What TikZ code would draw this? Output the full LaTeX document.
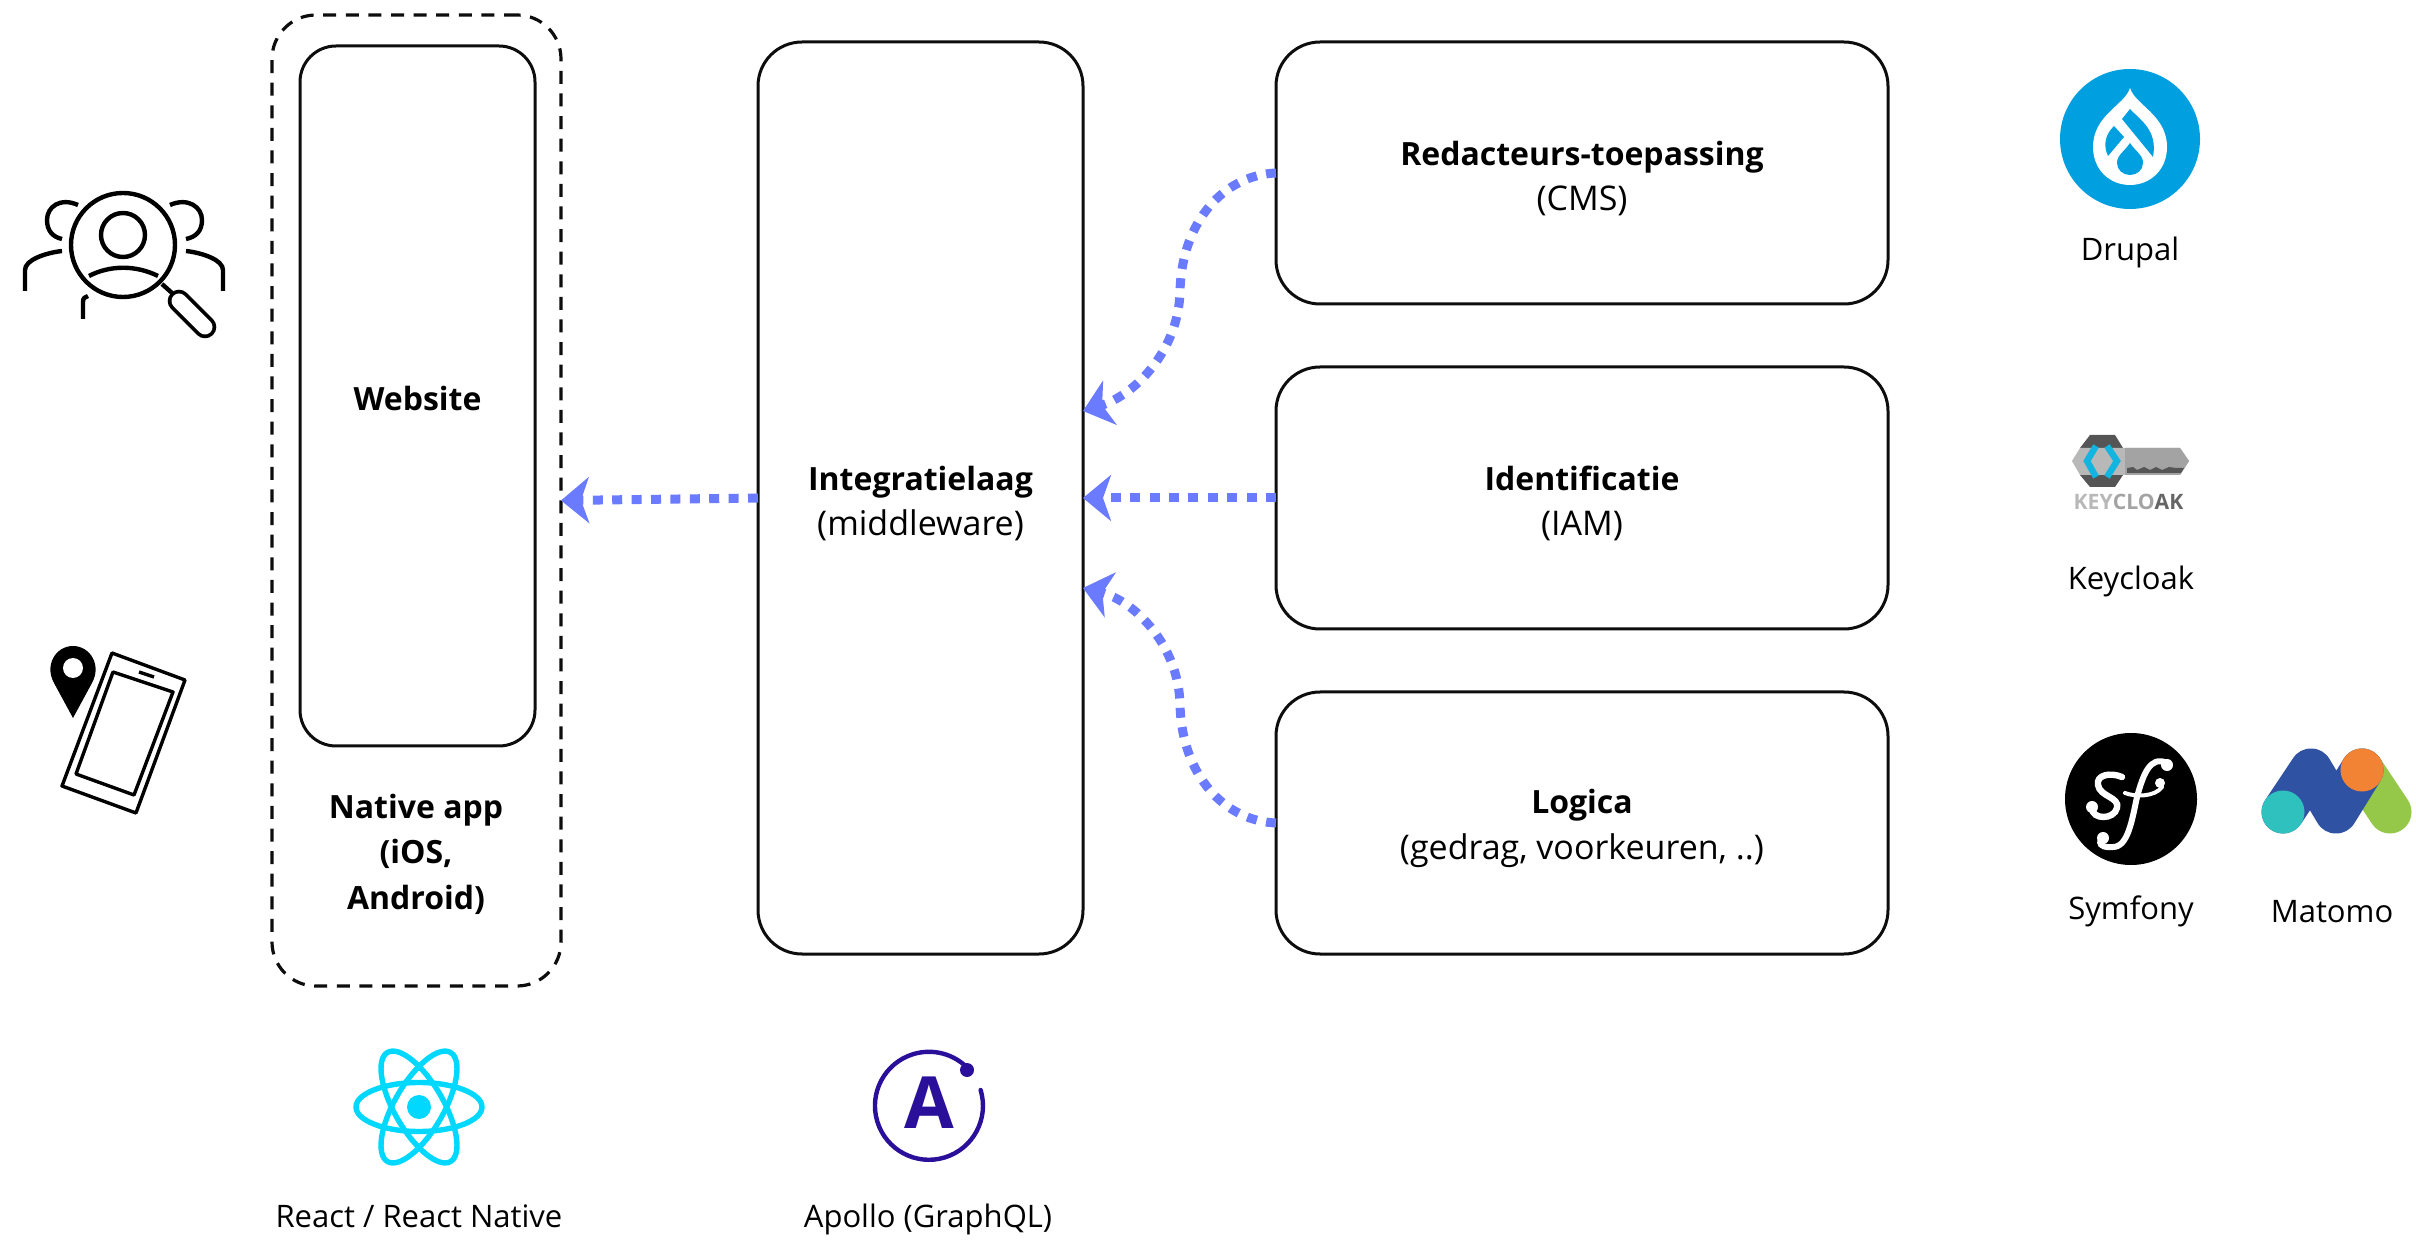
\documentclass[tikz,border=0pt]{standalone}
\usepackage{fontspec}
\setmainfont{Open Sans}
\usepackage{xcolor}
\usepackage{tikz}
\usetikzlibrary{arrows.meta}
\definecolor{flowblue}{HTML}{6A7BFF}
\definecolor{drupalblue}{HTML}{009FE0}
\definecolor{reactcyan}{HTML}{00D8FF}
\definecolor{apolloblue}{HTML}{2A0F9A}
\definecolor{matomoblue}{HTML}{2F52A3}
\definecolor{matomogreen}{HTML}{95C748}
\definecolor{matomoteal}{HTML}{2FC1BE}
\definecolor{matomoorange}{HTML}{F38334}
\definecolor{keydark}{HTML}{555555}
\definecolor{keygrey}{HTML}{A3A3A3}
\definecolor{keylight}{HTML}{B8B8B8}
\definecolor{keyblue}{HTML}{12B5E0}
\newlength{\pxunit}
\setlength{\pxunit}{0.5pt}
\newcommand{\boldline}[2][17.6pt]{{\fontsize{16}{22.7}\selectfont\bfseries\rule{0pt}{#1}#2}}

\begin{document}
\begin{tikzpicture}[x=\pxunit, y=-\pxunit,
                    box/.style n args={3}{draw=black!95,line width=1.5pt,
                    minimum width=#1\pxunit,
                    minimum height=#2\pxunit,
                    rounded corners=#3\pxunit,
                    inner sep=0pt,outer sep=0pt,rectangle,align=center,
                    font=\fontsize{17}{22.7}\selectfont},
                    caption/.style={inner sep=0pt,align=center,
                    font=\fontsize{15.5}{22.7}\selectfont},
                    flow/.style={flowblue,line width=4.5pt,dash pattern=on 5pt off 4.7pt,
                    -{Stealth[length=14pt,width=23pt,inset=4pt]}},
                    glyph/.style={line width=2.2pt,black},
                    phone/.style={line width=1.7pt,black,line join=round}]
    \useasboundingbox (0,0) rectangle (2416,1240);

    \node[box={289}{971}{44},line width=1.6pt,dash pattern=on 6.5pt off 4.8pt](native) at (416.5,500.5) {};
    \node[box={235}{700}{36}](website) at (417.5,396) {\boldline[15pt]{Website}};
    \node[caption,font=\fontsize{16}{22.7}\selectfont\bfseries](nativetext) at (416,854) {Native app\\(iOS,\\Android)};
    \node[box={325}{912}{44}](middle) at (920.5,498) {\boldline{Integratielaag}\\(middleware)};
    \node[box={612}{262}{44}](cms) at (1582,173) {\boldline{Redacteurs-toepassing}\\(CMS)};
    \node[box={612}{262}{44}](iam) at (1582,498) {\boldline{Identificatie}\\(IAM)};
    \node[box={612}{262}{44}](logic) at (1582,823) {\boldline{Logica}\\(gedrag, voorkeuren, ..)};

    \coordinate (midtop) at (1083,411);
    \coordinate (midbot) at (1083,588);
    \draw[flow] (cms.west) .. controls (1225,175) and (1182,220) .. (1180,291)
                .. controls (1179,350) and (1135,395) .. (midtop);
    \draw[flow] (iam.west) -- (middle.east);
    \draw[flow] (logic.west) .. controls (1225,821) and (1182,776) .. (1180,705)
                .. controls (1179,646) and (1135,601) .. (midbot);
    \draw[flow] (middle.west) -- (native.east);

    \draw[glyph] (123,245) circle[radius=52];
    \draw[glyph] (123,235) circle[radius=22];
    \draw[glyph] (89,276) .. controls (110,265) and (136,265) .. (158,276);
    \draw[glyph] (162,284) -- (172,293);
    \draw[line width=1.9pt,double=white,double distance=7.5pt,line cap=round,black] (179,301) -- (205,327);
    \draw[glyph] (78,205) .. controls (60,197) and (47,207) .. (47,220) .. controls (47,231) and (53,237) .. (62,239);
    \draw[glyph] (170,205) .. controls (188,197) and (202,207) .. (202,220) .. controls (202,231) and (196,237) .. (186,239);
    \draw[glyph] (62,251) .. controls (45,253) and (25,260) .. (25,270) -- (25,291);
    \draw[glyph] (186,251) .. controls (203,253) and (223,260) .. (223,270) -- (223,291);
    \draw[glyph] (88,296) .. controls (85,297) and (83,298) .. (83,302) -- (83,319);

    \draw[phone] (112,653) -- (185,680) -- (136,813) -- (62,786) -- cycle;
    \draw[phone] (113,672) -- (173,692) -- (134,795) -- (76,774) -- cycle;
    \draw[phone] (139,672) -- (154,677);
    \fill[black] (73,718) -- (54,683) .. controls (44,665) and (56,646) .. (73,646)
                 .. controls (90,646) and (102,665) .. (92,683) -- cycle;
    \fill[white] (73,668) circle[radius=10];

    \fill[drupalblue] (2130,139) circle[radius=70];
    \fill[white] (2130,88) .. controls (2125,105) and (2093,115) .. (2093,147)
                 .. controls (2093,170) and (2110,185) .. (2130,185)
                 .. controls (2150,185) and (2167,170) .. (2167,147)
                 .. controls (2167,115) and (2135,105) .. (2130,88) -- cycle;
    \fill[drupalblue] (2130,109) .. controls (2140,120) and (2158,130) .. (2153,157)
                      -- (2122,119) -- cycle;
    \fill[drupalblue] (2114,126) -- (2124,137) -- (2108,156) .. controls (2103,145) and (2105,135) .. (2114,126) -- cycle;
    \fill[drupalblue] (2130,143) .. controls (2124,152) and (2117,155) .. (2117,163)
                      .. controls (2117,170) and (2123,175) .. (2130,175)
                      .. controls (2137,175) and (2143,170) .. (2143,163)
                      .. controls (2143,155) and (2136,152) .. (2130,143) -- cycle;

    \fill[keydark] (2080,448) -- (2090,435) -- (2115,435) -- (2123,448) -- (2123,475) -- (2115,487) -- (2090,487) -- (2080,475) -- cycle;
    \fill[keylight] (2072,461) -- (2080,448) -- (2180,448) -- (2189,461) -- (2180,475) -- (2080,475) -- cycle;
    \fill[keygrey] (2125,448) -- (2180,448) -- (2189,461) -- (2180,475) -- (2125,475) -- cycle;
    \fill[keydark] (2127,473) -- (2127,468) -- (2133,467) -- (2137,470) -- (2144,467) -- (2150,470) -- (2156,467) -- (2162,470) -- (2169,467) -- (2176,468) -- (2184,468) -- (2181,473) -- cycle;
    \draw[keyblue,line width=3.2pt] (2096,446) -- (2087,461) -- (2096,477);
    \draw[keyblue,line width=3.2pt] (2107,446) -- (2117,461) -- (2107,477);
    \node[inner sep=0pt,font=\fontsize{10.6}{12}\selectfont\bfseries](keyword) at (2128.5,502) {\textcolor{keylight}{KEY}\textcolor{keygrey}{CLO}\textcolor{black!60}{AK}};

    \fill[black] (2131,799) circle[radius=66];
    \draw[white,line width=3pt,line cap=round] (2167,763) .. controls (2150,755) and (2143,775) .. (2137,797)
         .. controls (2132,820) and (2128,847) .. (2113,847) .. controls (2106,848) and (2100,846) .. (2100,842);
    \draw[white,line width=2pt,line cap=round] (2125,793) .. controls (2135,797) and (2155,797) .. (2162,787);
    \draw[white,line width=3.2pt,line cap=round] (2122,777) .. controls (2110,772) and (2096,775) .. (2098,785)
         .. controls (2100,797) and (2120,797) .. (2117,808) .. controls (2114,820) and (2092,820) .. (2092,808);
    \foreach \bx/\by/\br in {2167/765/6,2103/838/6,2160/783/5,2092/807/6}
        \fill[white] (\bx,\by) circle[radius=\br];

    \draw[matomogreen,line width=21.5pt,line cap=round] (2362,770) -- (2390,812);
    \draw[matomoblue,line width=21.5pt,line cap=round,line join=round] (2283,812) -- (2311,770) -- (2336,812) -- (2362,770);
    \fill[matomoteal] (2283,812) circle[radius=21.5];
    \fill[matomoorange] (2362,770) circle[radius=21.5];

    \foreach \ang in {0,60,120}
        \draw[reactcyan,line width=2.7pt,rotate around={\ang:(419,1107)}] (419,1107) ellipse[x radius=63,y radius=24.5];
    \fill[reactcyan] (419,1107) circle[radius=12];

    \draw[apolloblue,line width=2.2pt,line cap=round] (980.6,1090) arc[start angle=-17,end angle=317,radius=54];
    \fill[apolloblue] (967,1070) circle[radius=7];
    \node[inner sep=0pt,text=apolloblue,font=\fontsize{36}{36}\selectfont\bfseries](apolloA) at (929,1103) {A};

    \node[caption](drupal) at (2130,252) {Drupal};
    \node[caption](keycloak) at (2131,581) {Keycloak};
    \node[caption](symfony) at (2131,911) {Symfony};
    \node[caption](matomo) at (2332,912) {Matomo};
    \node[caption](react) at (419,1216) {React / React Native};
    \node[caption](apollo) at (928,1219) {Apollo (GraphQL)};
\end{tikzpicture}
\end{document}
